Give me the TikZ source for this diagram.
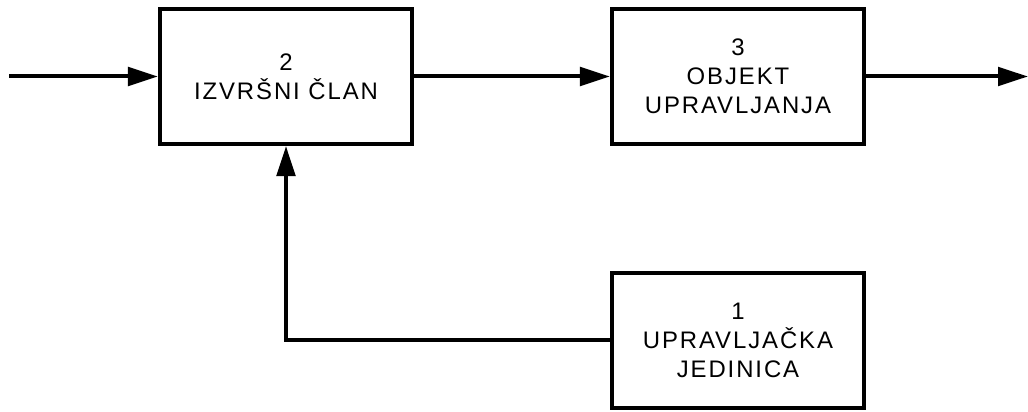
\documentclass[tikz,border=0pt]{standalone}
\usepackage{fontspec}
\setmainfont{Liberation Sans}
\usetikzlibrary{arrows.meta}
\begin{document}
\begin{tikzpicture}[>={Triangle[length=0.75cm,width=0.46cm]}, x=0.025cm, y=-0.025cm,
  blok/.style={draw, line width=0.1cm, minimum width=6.3cm, minimum height=3.375cm,
    align=center, font=\fontsize{17}{20.5}\selectfont\addfontfeatures{LetterSpace=8}},
  veza/.style={line width=0.1cm}]
\useasboundingbox (0,0) rectangle (1028,412);

\node[blok] (izvrsni) at (286,76.5) {2\\IZVRŠNI ČLAN};
\node[blok] (objekt) at (738,76.5) {3\\OBJEKT\\UPRAVLJANJA};
\node[blok] (upravljacka) at (738,340.5) {1\\UPRAVLJAČKA\\JEDINICA};

\coordinate (ulaz) at (9,76.5);
\coordinate (izlaz) at (1028,76.5);

\draw [veza,->](ulaz)--(izvrsni.west);
\draw [veza,->](izvrsni.east)--(objekt.west);
\draw [veza,->](objekt.east)--(izlaz);
\draw [veza,->](upravljacka.west) -| (izvrsni.south);
\end{tikzpicture}
\end{document}
